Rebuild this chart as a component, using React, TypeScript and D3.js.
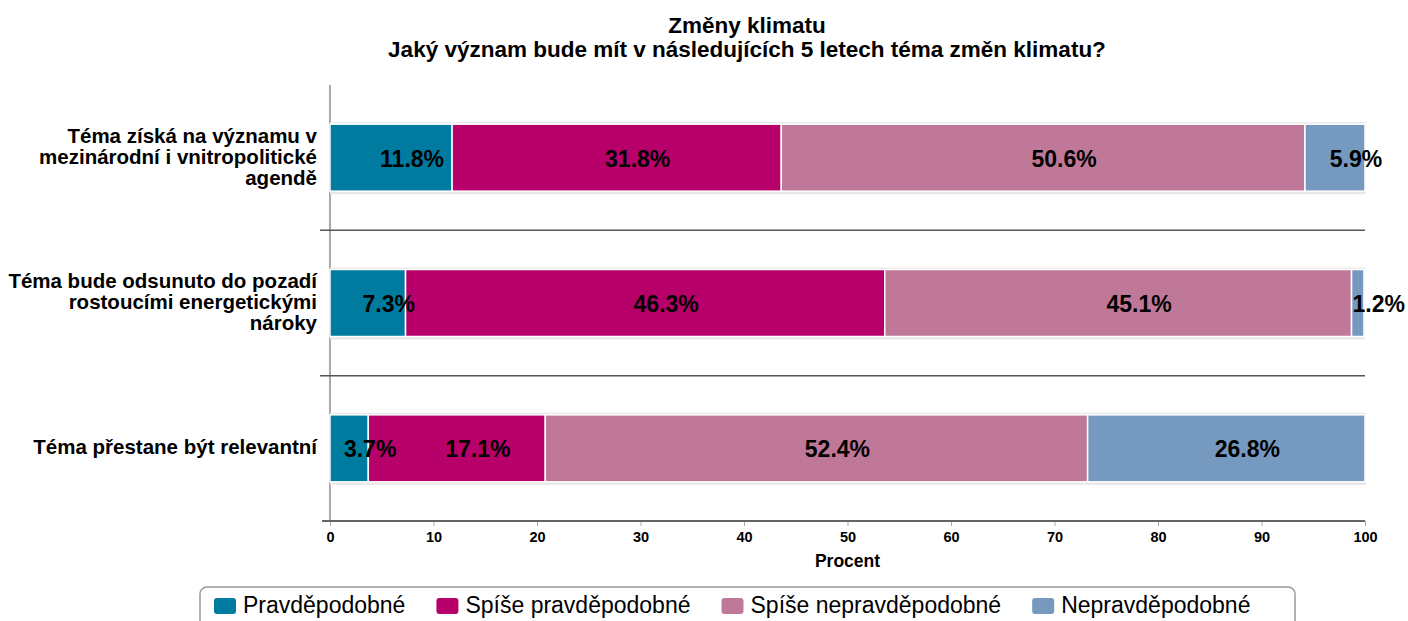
import * as d3 from 'd3';
import { useEffect, useRef } from 'react';

const titleLines = ['Změny klimatu', 'Jaký význam bude mít v následujících 5 letech téma změn klimatu?'];

const categories = [
  'Téma získá na významu v mezinárodní i vnitropolitické agendě',
  'Téma bude odsunuto do pozadí rostoucími energetickými nároky',
  'Téma přestane být relevantní',
];

// wrapped lines for the category labels
const categoryLines = [
  ['Téma získá na významu v', 'mezinárodní i vnitropolitické', 'agendě'],
  ['Téma bude odsunuto do pozadí', 'rostoucími energetickými', 'nároky'],
  ['Téma přestane být relevantní'],
];

const seriesNames = ['Pravděpodobné', 'Spíše pravděpodobné', 'Spíše nepravděpodobné', 'Nepravděpodobné'];
const seriesColors = ['#007ba0', '#b8006b', '#c07898', '#7699c0'];

const pravdepodobne = [11.8, 7.3, 3.7];
const spisePravdepodobne = [31.8, 46.3, 17.1];
const spiseNepravdepodobne = [50.6, 45.1, 52.4];
const nepravdepodobne = [5.9, 1.2, 26.8];

const xTicks = [0, 10, 20, 30, 40, 50, 60, 70, 80, 90, 100];
const xLabel = 'Procent';

const FONT = 'Liberation Sans, Arial, sans-serif';

export default function App() {
  const svgRef = useRef<SVGSVGElement | null>(null);
  const width = 1408;
  const height = 621;

  useEffect(() => {
    const svg = d3.select(svgRef.current);
    svg.selectAll('*').remove();

    const margin = { top: 85, right: 43, bottom: 100, left: 330 };
    const x = d3.scaleLinear().domain([0, 100]).range([margin.left, width - margin.right]);
    const y = d3.scaleBand<string>().domain(categories).range([margin.top, height - margin.bottom]);
    const barH = 67;

    const values = [pravdepodobne, spisePravdepodobne, spiseNepravdepodobne, nepravdepodobne];

    // title
    svg.append('g')
      .selectAll('text')
      .data(titleLines)
      .enter()
      .append('text')
      .attr('x', 747)
      .attr('y', (_, i) => 33 + i * 24)
      .attr('text-anchor', 'middle')
      .style('font-family', FONT)
      .style('font-weight', 'bold')
      .style('font-size', '22.5px')
      .text(d => d);

    // left axis line
    svg.append('line')
      .attr('x1', x(0)).attr('x2', x(0))
      .attr('y1', margin.top).attr('y2', height - margin.bottom)
      .attr('stroke', '#aaa').attr('stroke-width', 2);

    // separators between categories
    categories.slice(1).forEach((c) => {
      svg.append('line')
        .attr('x1', x(0) - 10).attr('x2', x(100))
        .attr('y1', y(c)!).attr('y2', y(c)!)
        .attr('stroke', '#555').attr('stroke-width', 1.5);
    });

    // bottom axis
    const xAxis = svg.append('g')
      .attr('transform', `translate(0,${height - margin.bottom})`)
      .call(d3.axisBottom(x).tickValues(xTicks).tickSize(5).tickSizeOuter(0).tickPadding(5));
    xAxis.select('.domain').remove();
    xAxis.append('line')
      .attr('x1', x(0) - 8).attr('x2', x(100))
      .attr('stroke', '#666').attr('stroke-width', 2);
    xAxis.selectAll('.tick line').attr('stroke', '#aaa');
    xAxis.selectAll('.tick text')
      .attr('y', 21)
      .attr('dy', null)
      .style('font-family', FONT)
      .style('font-weight', 'bold')
      .style('font-size', '14.5px')
      .attr('fill', '#000');

    svg.append('text')
      .attr('x', (x(0) + x(100)) / 2)
      .attr('y', 567)
      .attr('text-anchor', 'middle')
      .style('font-family', FONT)
      .style('font-weight', 'bold')
      .style('font-size', '17.5px')
      .text(xLabel);

    // category labels
    categories.forEach((c, i) => {
      const lines = categoryLines[i];
      const cy = y(c)! + y.bandwidth() / 2;
      const lh = 21;
      svg.append('text')
        .attr('text-anchor', 'end')
        .style('font-family', FONT)
        .style('font-weight', 'bold')
        .style('font-size', '20.5px')
        .selectAll('tspan')
        .data(lines)
        .enter()
        .append('tspan')
        .attr('x', x(0) - 13)
        .attr('y', (_, j) => cy + 6 + (j - (lines.length - 1) / 2) * lh)
        .text(d => d);
    });

    // stacked bars
    const rows = categories.map((c, i) => {
      let acc = 0;
      return values.map((v, s) => {
        const seg = { cat: c, s, x0: acc, x1: acc + v[i], v: v[i] };
        acc += v[i];
        return seg;
      });
    });

    rows.forEach((segs) => {
      const c = segs[0].cat;
      const by = y(c)! + (y.bandwidth() - barH) / 2;
      const g = svg.append('g');
      g.append('rect')
        .attr('x', x(0)).attr('y', by - 2)
        .attr('width', x(Math.min(100, segs[3].x1)) - x(0) + 1)
        .attr('height', barH + 5)
        .attr('fill', '#e8e8e8');
      g.selectAll('rect.seg')
        .data(segs)
        .enter()
        .append('rect')
        .attr('class', 'seg')
        .attr('x', d => x(d.x0))
        .attr('y', by)
        .attr('width', d => Math.max(0, x(Math.min(100, d.x1)) - x(d.x0)))
        .attr('height', barH)
        .attr('fill', d => seriesColors[d.s])
        .attr('stroke', '#fff')
        .attr('stroke-width', 1.5);
      g.selectAll('text')
        .data(segs)
        .enter()
        .append('text')
        .attr('x', d => (x(d.x0) + x(Math.min(100, d.x1))) / 2 + 21)
        .attr('y', by + barH / 2 + 9)
        .attr('text-anchor', 'middle')
        .style('font-family', FONT)
        .style('font-weight', 'bold')
        .style('font-size', '23px')
        .text(d => `${d.v.toFixed(1)}%`);
    });

    // legend
    const legend = svg.append('g');
    legend.append('rect')
      .attr('x', 200).attr('y', 587)
      .attr('width', 1095).attr('height', 50)
      .attr('rx', 7)
      .attr('fill', '#fff')
      .attr('stroke', '#999')
      .attr('stroke-width', 1.5);
    let lx = 214;
    seriesNames.forEach((name, i) => {
      legend.append('rect')
        .attr('x', lx).attr('y', 598)
        .attr('width', 22).attr('height', 16)
        .attr('rx', 3)
        .attr('fill', seriesColors[i]);
      const t = legend.append('text')
        .attr('x', lx + 29).attr('y', 613)
        .style('font-family', FONT)
        .style('font-size', '23px')
        .text(name);
      const w = (t.node() as SVGTextElement).getComputedTextLength();
      lx += 29 + w + 31;
    });
  }, []);

  return (
    <svg
      ref={svgRef}
      width={width}
      height={height}
      style={{ position: 'absolute', left: 0, top: 0, background: '#fff' }}
    />
  );
}
